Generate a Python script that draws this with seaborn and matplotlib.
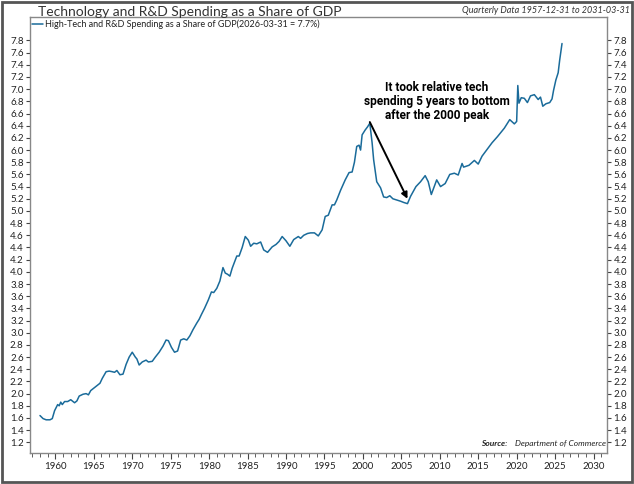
import numpy as np
import pandas as pd
import matplotlib
matplotlib.use("Agg")
import matplotlib.pyplot as plt
import seaborn as sns
from matplotlib.ticker import MultipleLocator
from matplotlib.patches import Rectangle

# quarterly-ish readings of the series (decimal year, % of GDP)
years = [
    1958.0, 1958.4, 1958.8, 1959.3, 1959.6, 1959.9, 1960.3, 1960.5, 1960.7, 1960.9,
    1961.2, 1961.6, 1962.0, 1962.5, 1962.8, 1963.1, 1963.6, 1964.0, 1964.3, 1964.6,
    1964.9, 1965.3, 1965.8, 1966.1, 1966.6, 1967.0, 1967.4, 1967.7, 1968.0, 1968.4,
    1968.8, 1969.2, 1969.6, 1970.0, 1970.4, 1970.6, 1970.9, 1971.3, 1971.8, 1972.1,
    1972.6, 1973.0, 1973.5, 1974.0, 1974.4, 1974.7, 1975.1, 1975.5, 1975.9, 1976.3,
    1976.7, 1977.1, 1977.5, 1977.9, 1978.4, 1978.7, 1979.0, 1979.4, 1979.9, 1980.3,
    1980.6, 1981.0, 1981.4, 1981.8, 1982.1, 1982.4, 1982.7, 1983.0, 1983.6, 1983.9,
    1984.3, 1984.7, 1985.1, 1985.4, 1985.8, 1986.2, 1986.7, 1987.1, 1987.6, 1988.2,
    1988.7, 1989.1, 1989.5, 1990.0, 1990.5, 1991.0, 1991.6, 1991.9, 1992.3, 1992.8,
    1993.2, 1993.7, 1994.2, 1994.7, 1995.1, 1995.5, 1996.0, 1996.3, 1996.6, 1997.1,
    1997.7, 1998.2, 1998.6, 1998.9, 1999.2, 1999.5, 1999.7, 1999.9, 2000.3, 2000.6,
    2000.9, 2001.2, 2001.4, 2001.8, 2002.3, 2002.7, 2003.1, 2003.5, 2003.9, 2004.4,
    2004.9, 2005.3, 2005.8, 2006.2, 2006.9, 2007.5, 2008.1, 2008.5, 2008.9, 2009.6,
    2010.1, 2010.7, 2011.3, 2011.9, 2012.4, 2012.9, 2013.1, 2013.8, 2014.5, 2015.0,
    2015.5, 2016.2, 2016.8, 2017.5, 2018.4, 2019.1, 2019.7, 2020.0, 2020.15, 2020.3,
    2020.6, 2021.0, 2021.4, 2021.8, 2022.3, 2022.8, 2023.1, 2023.4, 2023.8, 2024.3,
    2024.6, 2024.8, 2025.1, 2025.4, 2025.6, 2025.9,
]
share = [
    1.64, 1.59, 1.57, 1.57, 1.59, 1.72, 1.82, 1.80, 1.86, 1.82,
    1.87, 1.87, 1.90, 1.85, 1.88, 1.96, 1.99, 2.00, 1.98, 2.05,
    2.08, 2.12, 2.17, 2.25, 2.36, 2.37, 2.36, 2.35, 2.38, 2.31,
    2.32, 2.48, 2.60, 2.68, 2.60, 2.57, 2.47, 2.52, 2.55, 2.52,
    2.53, 2.60, 2.68, 2.78, 2.88, 2.87, 2.76, 2.68, 2.70, 2.88,
    2.90, 2.88, 2.95, 3.05, 3.16, 3.22, 3.30, 3.40, 3.54, 3.67,
    3.66, 3.73, 3.85, 4.07, 3.98, 3.96, 3.93, 4.06, 4.26, 4.26,
    4.40, 4.58, 4.52, 4.42, 4.47, 4.46, 4.49, 4.36, 4.32, 4.41,
    4.45, 4.50, 4.58, 4.51, 4.42, 4.53, 4.58, 4.55, 4.60, 4.63,
    4.64, 4.64, 4.59, 4.69, 4.91, 4.93, 5.10, 5.10, 5.18, 5.34,
    5.51, 5.63, 5.64, 5.80, 6.06, 6.08, 6.00, 6.25, 6.33, 6.38,
    6.44, 6.12, 5.84, 5.48, 5.38, 5.23, 5.22, 5.25, 5.20, 5.18,
    5.16, 5.14, 5.12, 5.24, 5.40, 5.48, 5.58, 5.48, 5.27, 5.51,
    5.40, 5.45, 5.60, 5.62, 5.59, 5.78, 5.72, 5.75, 5.83, 5.77,
    5.90, 6.02, 6.12, 6.22, 6.36, 6.50, 6.43, 6.47, 7.06, 6.77,
    6.86, 6.85, 6.78, 6.89, 6.91, 6.83, 6.87, 6.72, 6.76, 6.78,
    6.84, 6.98, 7.15, 7.27, 7.48, 7.75,
]

series_label = "High-Tech and R&D Spending as a Share of GDP(2026-03-31 = 7.7%)"
chart_title = "Technology and R&D Spending as a Share of GDP"
range_note = "Quarterly Data 1957-12-31 to 2031-03-31"
note_text = "It took relative tech\nspending 5 years to bottom\nafter the 2000 peak"

df = pd.DataFrame({"year": years, "share": share})

sns.set_style("ticks")
plt.rcParams["font.family"] = ["Lato", "DejaVu Sans"]

fig = plt.figure(figsize=(6.34, 4.84), dpi=100)
ax = fig.add_axes([0.0473, 0.0647, 0.9107, 0.8995])

sns.lineplot(data=df, x="year", y="share", ax=ax, color="#1a6b9a",
             linewidth=1.1, label=series_label, sort=False)

ax.set_xlim(1956.7, 2031.8)
ax.set_ylim(1.03, 8.18)
ax.xaxis.set_major_locator(MultipleLocator(5))
ax.xaxis.set_minor_locator(MultipleLocator(1))
ax.set_yticks(np.round(np.arange(1.2, 7.81, 0.2), 1))
ax.yaxis.set_major_formatter(matplotlib.ticker.FormatStrFormatter("%.1f"))
ax.tick_params(axis="y", which="both", left=True, right=True,
               labelleft=True, labelright=True, labelsize=7, length=3,
               pad=1.5, color="#444444", labelcolor="#222222")
ax.tick_params(axis="x", which="major", labelsize=7, length=4, pad=3,
               color="#444444", labelcolor="#222222")
ax.tick_params(axis="x", which="minor", length=3, color="#444444")
ax.set_xlabel("")
ax.set_ylabel("")
for sp in ax.spines.values():
    sp.set_color("#888888")
    sp.set_linewidth(1.0)

leg = ax.legend(loc="upper left", frameon=False, fontsize=6.5,
                handlelength=1.2, handletextpad=0.2, borderaxespad=0.15,
                borderpad=0.1)
for t in leg.get_texts():
    t.set_color("#222222")

# arrow and note
ax.annotate("", xy=(2005.8, 5.2), xytext=(2000.9, 6.46),
            arrowprops=dict(arrowstyle="-|>", color="black", lw=1.4,
                            mutation_scale=9, shrinkA=0, shrinkB=0))
ax.text(2009.65, 6.8, note_text, ha="center", va="center", fontsize=8.6,
        fontweight="bold", linespacing=1.1, color="black",
        family=["Roboto", "DejaVu Sans"])

# source
ax.text(0.826, 0.012, "Source:", transform=ax.transAxes, ha="right",
        va="bottom", fontsize=6, fontstyle="italic", fontweight="bold",
        color="#222222")
ax.text(0.840, 0.012, "Department of Commerce", transform=ax.transAxes,
        ha="left", va="bottom", fontsize=6, fontstyle="italic",
        color="#222222")

fig.text(0.06, 0.963, chart_title, ha="left", va="bottom", fontsize=10,
         color="#333333")
fig.text(0.993, 0.968, range_note, ha="right", va="bottom", fontsize=6.5,
         fontstyle="italic", color="#333333")

fig.patches.append(Rectangle((0.003, 0.004), 0.994, 0.992,
                             transform=fig.transFigure, fill=False,
                             edgecolor="#555555", linewidth=2))

fig.savefig("out.png", dpi=100)
